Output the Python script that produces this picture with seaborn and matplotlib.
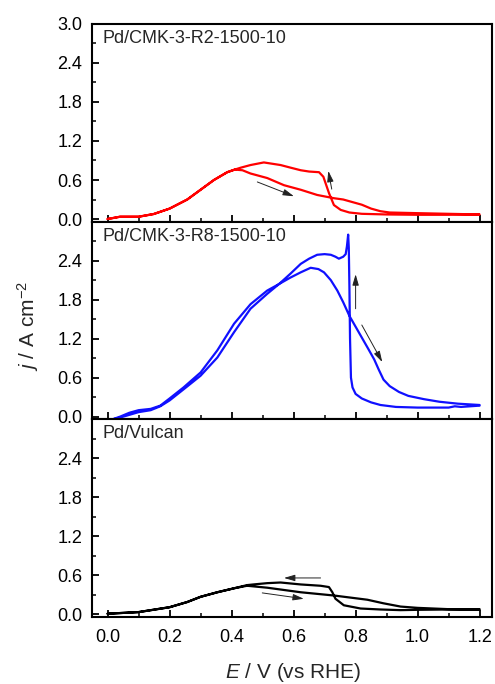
import numpy as np
import pandas as pd
import matplotlib
matplotlib.use("Agg")
import matplotlib.pyplot as plt
from matplotlib.ticker import MultipleLocator, FormatStrFormatter
import seaborn as sns

sns.set_theme(style="white")
plt.rcParams['font.family'] = ['Liberation Sans', 'DejaVu Sans']
plt.rcParams['mathtext.fontset'] = 'custom'
plt.rcParams['mathtext.rm'] = 'Liberation Sans'
plt.rcParams['mathtext.it'] = 'Liberation Sans:italic'

# ---- data (E / V vs RHE, j / A cm^-2) ----
# Panel 1: Pd/CMK-3-R2-1500-10 (red)
r2_fwd_E = [0.0, 0.04, 0.1, 0.149, 0.2, 0.257, 0.3, 0.343, 0.386, 0.41, 0.435, 0.461, 0.515, 0.569, 0.623, 0.676, 0.73, 0.76, 0.79, 0.82, 0.85, 0.88, 0.91, 1.0, 1.1, 1.2]
r2_fwd_j = [0.0, 0.035, 0.035, 0.077, 0.16, 0.30, 0.45, 0.6, 0.72, 0.76, 0.75, 0.70, 0.63, 0.52, 0.45, 0.37, 0.32, 0.30, 0.26, 0.22, 0.16, 0.12, 0.10, 0.09, 0.08, 0.07]
r2_bwd_E = [1.2, 1.1, 1.0, 0.9, 0.82, 0.78, 0.752, 0.73, 0.714, 0.696, 0.682, 0.65, 0.623, 0.59, 0.558, 0.504, 0.461, 0.43, 0.41, 0.386, 0.343, 0.3, 0.257, 0.2, 0.149, 0.1, 0.04, 0.0]
r2_bwd_j = [0.07, 0.065, 0.065, 0.07, 0.08, 0.10, 0.14, 0.215, 0.40, 0.65, 0.72, 0.73, 0.75, 0.79, 0.83, 0.87, 0.83, 0.79, 0.76, 0.72, 0.6, 0.45, 0.30, 0.16, 0.077, 0.035, 0.035, 0.0]

# Panel 2: Pd/CMK-3-R8-1500-10 (blue)
r8_fwd_E = [0.01, 0.04, 0.07, 0.1, 0.139, 0.17, 0.2, 0.245, 0.3, 0.354, 0.408, 0.461, 0.515, 0.553, 0.59, 0.623, 0.655, 0.68, 0.698, 0.72, 0.741, 0.76, 0.78, 0.81, 0.84, 0.86, 0.875, 0.89, 0.91, 0.94, 0.97, 1.02, 1.07, 1.13, 1.2]
r8_fwd_j = [-0.05, 0.0, 0.06, 0.1, 0.12, 0.17, 0.28, 0.45, 0.68, 1.02, 1.43, 1.73, 1.94, 2.04, 2.14, 2.22, 2.29, 2.27, 2.22, 2.1, 1.94, 1.76, 1.55, 1.3, 1.05, 0.88, 0.72, 0.57, 0.47, 0.38, 0.32, 0.27, 0.23, 0.2, 0.18]
r8_bwd_E = [1.2, 1.17, 1.14, 1.12, 1.1, 1.0, 0.93, 0.88, 0.85, 0.82, 0.80, 0.79, 0.785, 0.782, 0.78, 0.778, 0.776, 0.772, 0.768, 0.76, 0.746, 0.735, 0.72, 0.7, 0.676, 0.65, 0.623, 0.59, 0.553, 0.515, 0.461, 0.408, 0.354, 0.3, 0.245, 0.2, 0.17, 0.139, 0.1, 0.05, 0.01]
r8_bwd_j = [0.17, 0.16, 0.15, 0.16, 0.14, 0.14, 0.15, 0.18, 0.22, 0.28, 0.35, 0.45, 0.6, 1.2, 2.0, 2.6, 2.8, 2.62, 2.5, 2.46, 2.43, 2.46, 2.49, 2.5, 2.49, 2.43, 2.35, 2.2, 2.04, 1.89, 1.66, 1.30, 0.91, 0.63, 0.42, 0.25, 0.16, 0.1, 0.07, 0.0, -0.05]

# Panel 3: Pd/Vulcan (black)
vu_fwd_E = [0.0, 0.1, 0.2, 0.257, 0.3, 0.354, 0.407, 0.45, 0.515, 0.623, 0.73, 0.838, 0.89, 0.945, 1.0, 1.1, 1.2]
vu_fwd_j = [0.01, 0.035, 0.11, 0.19, 0.27, 0.34, 0.40, 0.44, 0.41, 0.34, 0.29, 0.225, 0.17, 0.12, 0.10, 0.08, 0.07]
vu_bwd_E = [1.2, 1.1, 1.0, 0.945, 0.88, 0.816, 0.762, 0.735, 0.725, 0.714, 0.687, 0.623, 0.558, 0.515, 0.47, 0.45, 0.407, 0.354, 0.3, 0.257, 0.2, 0.1, 0.0]
vu_bwd_j = [0.08, 0.075, 0.07, 0.065, 0.075, 0.09, 0.14, 0.24, 0.34, 0.42, 0.44, 0.46, 0.49, 0.48, 0.46, 0.45, 0.40, 0.34, 0.27, 0.19, 0.11, 0.035, 0.01]

labels = ["Pd/CMK-3-R2-1500-10", "Pd/CMK-3-R8-1500-10", "Pd/Vulcan"]
colors = ["#ff0000", "#1010ff", "#000000"]
series = [(r2_fwd_E, r2_fwd_j, r2_bwd_E, r2_bwd_j),
          (r8_fwd_E, r8_fwd_j, r8_bwd_E, r8_bwd_j),
          (vu_fwd_E, vu_fwd_j, vu_bwd_E, vu_bwd_j)]

# arrows: (start E, start j, end E, end j)
arrows = [
    [(0.483, 0.57, 0.601, 0.35), (0.723, 0.46, 0.712, 0.74)],
    [(0.80, 1.66, 0.80, 2.19), (0.82, 1.41, 0.886, 0.84)],
    [(0.687, 0.56, 0.569, 0.56), (0.499, 0.33, 0.633, 0.24)],
]

fig = plt.figure(figsize=(4.95, 6.84), dpi=100)
axes = fig.subplots(3, 1, sharex=True)
fig.subplots_adjust(left=0.186, right=0.994, top=0.965, bottom=0.098, hspace=0)

for i, ax in enumerate(axes):
    fE, fj, bE, bj = series[i]
    df = pd.DataFrame({"E": list(fE) + list(bE), "j": list(fj) + list(bj)})
    sns.lineplot(data=df, x="E", y="j", sort=False, estimator=None,
                 color=colors[i], lw=1.6, ax=ax)
    ax.set_xlim(-0.05, 1.24)
    ax.set_ylim(-0.04, 3.0)
    ax.xaxis.set_major_locator(MultipleLocator(0.2))
    ax.xaxis.set_minor_locator(MultipleLocator(0.1))
    if i == 0:
        ax.set_yticks([0.0, 0.6, 1.2, 1.8, 2.4, 3.0])
    else:
        ax.set_yticks([0.0, 0.6, 1.2, 1.8, 2.4])
    ax.yaxis.set_minor_locator(MultipleLocator(0.3))
    ax.yaxis.set_major_formatter(FormatStrFormatter('%.1f'))
    ax.xaxis.set_major_formatter(FormatStrFormatter('%.1f'))
    ax.tick_params(which='both', direction='in', top=False, right=False,
                   bottom=True, left=True, labelsize=13, colors='black')
    ax.tick_params(which='major', length=5, width=1.3)
    ax.tick_params(which='minor', length=3, width=1.1)
    ax.tick_params(axis='y', pad=7)
    ax.set_xlabel("")
    ax.set_ylabel("")
    for s in ax.spines.values():
        s.set_linewidth(1.5)
        s.set_color('black')
    ax.text(0.025, 0.97, labels[i], transform=ax.transAxes, ha='left', va='top',
            fontsize=13)
    for (x0, y0, x1, y1) in arrows[i]:
        ax.annotate("", xy=(x1, y1), xytext=(x0, y0),
                    arrowprops=dict(arrowstyle="-|>,head_length=0.55,head_width=0.16",
                                    color="#222222", lw=0.7, shrinkA=0, shrinkB=0))

axes[2].tick_params(axis='x', labelbottom=True, pad=9)
axes[0].tick_params(axis='x', labelbottom=False)
axes[1].tick_params(axis='x', labelbottom=False)

fig.text(0.592, 0.0175, "$E$ / V (vs RHE)", ha='center', va='center', fontsize=15)
fig.text(0.057, 0.523, "$j$ / A cm$^{-2}$", ha='center', va='center',
         rotation=90, fontsize=15)

fig.savefig("out.png", dpi=100)
